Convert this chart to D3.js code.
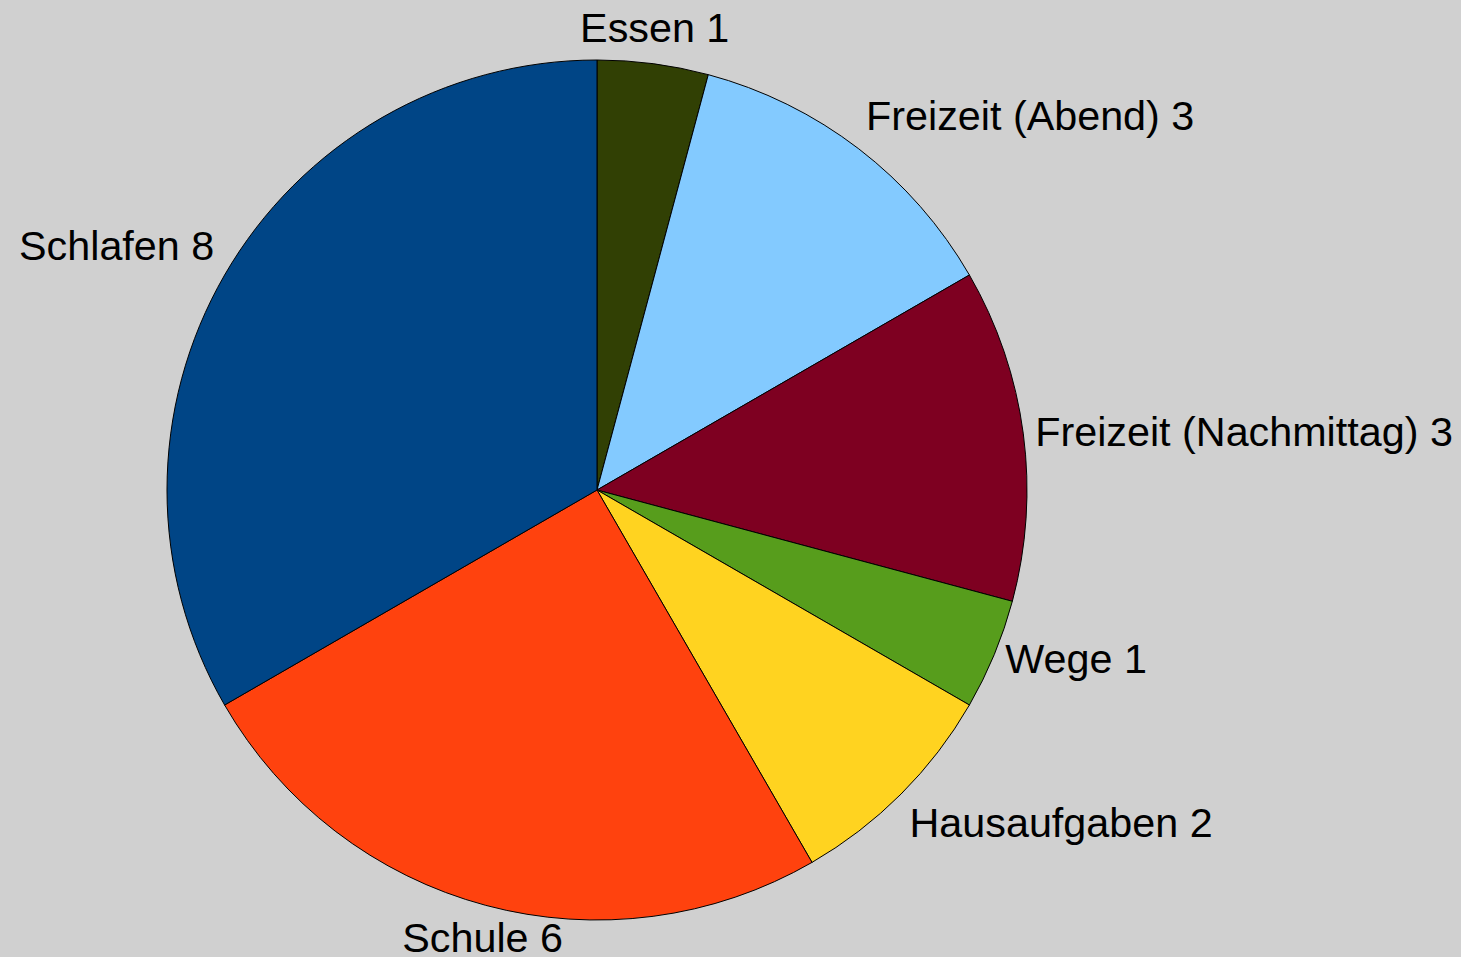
<!DOCTYPE html>
<html>
<head>
<meta charset="utf-8">
<script src="https://cdn.jsdelivr.net/npm/d3@7"></script>
<style>
  html, body { margin: 0; padding: 0; background: #d0d0d0; }
  svg { display: block; }
</style>
</head>
<body>
<div id="chart"></div>
<script>
const width = 1461;
const height = 957;
const center = { x: 597, y: 490 };
const radius = 430;
const labelRadius = 442;
const fontSize = 41.3;

// clockwise from 12 o'clock
const activities = [
  "Essen",
  "Freizeit (Abend)",
  "Freizeit (Nachmittag)",
  "Wege",
  "Hausaufgaben",
  "Schule",
  "Schlafen",
];
const hours = [1, 3, 3, 1, 2, 6, 8];
const sliceColors = [
  "#314004",
  "#83caff",
  "#7e0021",
  "#579d1c",
  "#ffd320",
  "#ff420e",
  "#004586",
];

const data = activities.map((name, i) => ({ name, value: hours[i] }));

const color = d3.scaleOrdinal().domain(activities).range(sliceColors);

const svg = d3
  .select("#chart")
  .append("svg")
  .attr("width", width)
  .attr("height", height);

svg
  .append("rect")
  .attr("width", width)
  .attr("height", height)
  .attr("fill", "#d0d0d0");

const pie = d3
  .pie()
  .sort(null)
  .value((d) => d.value);
const arcs = pie(data);

const arc = d3.arc().innerRadius(0).outerRadius(radius);

const g = svg
  .append("g")
  .attr("transform", `translate(${center.x}, ${center.y})`);

g.selectAll("path")
  .data(arcs)
  .enter()
  .append("path")
  .attr("d", arc)
  .attr("fill", (d) => color(d.data.name))
  .attr("stroke", "#000")
  .attr("stroke-width", 1);

// Labels outside the pie; the text box touches the point at the slice middle
g.selectAll("text")
  .data(arcs)
  .enter()
  .append("text")
  .attr("font-family", "'Liberation Sans', Arial, sans-serif")
  .attr("font-size", fontSize)
  .attr("fill", "#000")
  .each(function (d) {
    const a = (d.startAngle + d.endAngle) / 2;
    const sx = Math.sin(a);
    const cy = Math.cos(a);
    const x = labelRadius * sx;
    const y = -labelRadius * cy;
    let anchor = "middle";
    if (sx > 0.4) anchor = "start";
    else if (sx < -0.4) anchor = "end";
    let dy;
    if (cy > 0.45) dy = -fontSize * 0.23; // box bottom at point
    else if (cy < -0.45) dy = fontSize * 0.84; // box top at point
    else dy = fontSize * 0.33; // centred
    d3.select(this)
      .attr("x", x)
      .attr("y", y + dy)
      .attr("text-anchor", anchor)
      .text(`${d.data.name} ${d.data.value}`);
  });
</script>
</body>
</html>
